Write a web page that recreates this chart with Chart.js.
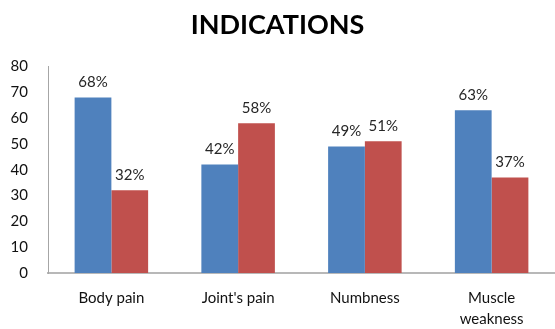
<!DOCTYPE html>
<html>
<head>
<meta charset="utf-8">
<script src="https://cdn.jsdelivr.net/npm/chart.js@4.4.1/dist/chart.umd.min.js"></script>
<style>
    html, body { margin: 0; padding: 0; background: #fff; }
    #chart-box { width: 555px; height: 329px; }
</style>
</head>
<body>
<div id="chart-box"><canvas id="chart-1"></canvas></div>
<script>
// categories and series
const categories = ["Body pain", "Joint's pain", "Numbness", ["Muscle", "weakness"]];
const seriesA = [68, 42, 49, 63];
const seriesB = [32, 58, 51, 37];
const yTicks = [0, 10, 20, 30, 40, 50, 60, 70, 80];

const fontFamily = "Lato, 'Open Sans', sans-serif";

/**
 * Affiche la valeur en pourcentage au-dessus de chaque barre
 */
const valueLabels = {
    id: "valueLabels",
    afterDatasetsDraw(chart) {
        const ctx = chart.ctx;
        ctx.save();
        ctx.font = "15px " + fontFamily;
        ctx.fillStyle = "#262626";
        ctx.textAlign = "center";
        ctx.textBaseline = "bottom";
        chart.data.datasets.forEach(function(ds, i) {
            chart.getDatasetMeta(i).data.forEach(function(bar, j) {
                ctx.fillText(ds.data[j] + "%", bar.x, bar.y - 8);
            });
        });
        ctx.restore();
    }
};

const dataChart = {
    labels: categories,
    datasets: [{
        label: "A",
        data: seriesA,
        backgroundColor: "#4f81bd",
        categoryPercentage: 0.58,
        barPercentage: 1.0
    }, {
        label: "B",
        data: seriesB,
        backgroundColor: "#c0504d",
        categoryPercentage: 0.58,
        barPercentage: 1.0
    }]
};

const configChart = {
    type: "bar",
    data: dataChart,
    options: {
        responsive: true,
        maintainAspectRatio: false,
        animation: false,
        layout: { padding: 0 },
        plugins: {
            legend: { display: false },
            tooltip: { enabled: false },
            title: {
                display: true,
                text: "INDICATIONS",
                color: "#000",
                font: { family: fontFamily, size: 27, weight: "bold" },
                padding: { top: 9, bottom: 25 }
            }
        },
        scales: {
            x: {
                afterFit: function(axis) { axis.height = 56; },
                grid: { display: false, drawTicks: false },
                border: { color: "#b8b8b8", width: 2 },
                ticks: {
                    color: "#111",
                    font: { family: fontFamily, size: 15, lineHeight: 1.45 },
                    padding: 14,
                    maxRotation: 0,
                    autoSkip: false
                }
            },
            y: {
                min: 0,
                max: 80,
                afterBuildTicks: function(axis) {
                    axis.ticks = yTicks.map(function(v) { return { value: v }; });
                },
                afterFit: function(axis) { axis.width = 48; },
                grid: { display: false, drawTicks: false },
                border: { color: "#a6a6a6", width: 1 },
                ticks: {
                    color: "#111",
                    font: { family: fontFamily, size: 15 },
                    padding: 20
                }
            }
        }
    },
    plugins: [valueLabels]
};

const chart = new Chart(document.getElementById("chart-1"), configChart);
</script>
</body>
</html>
